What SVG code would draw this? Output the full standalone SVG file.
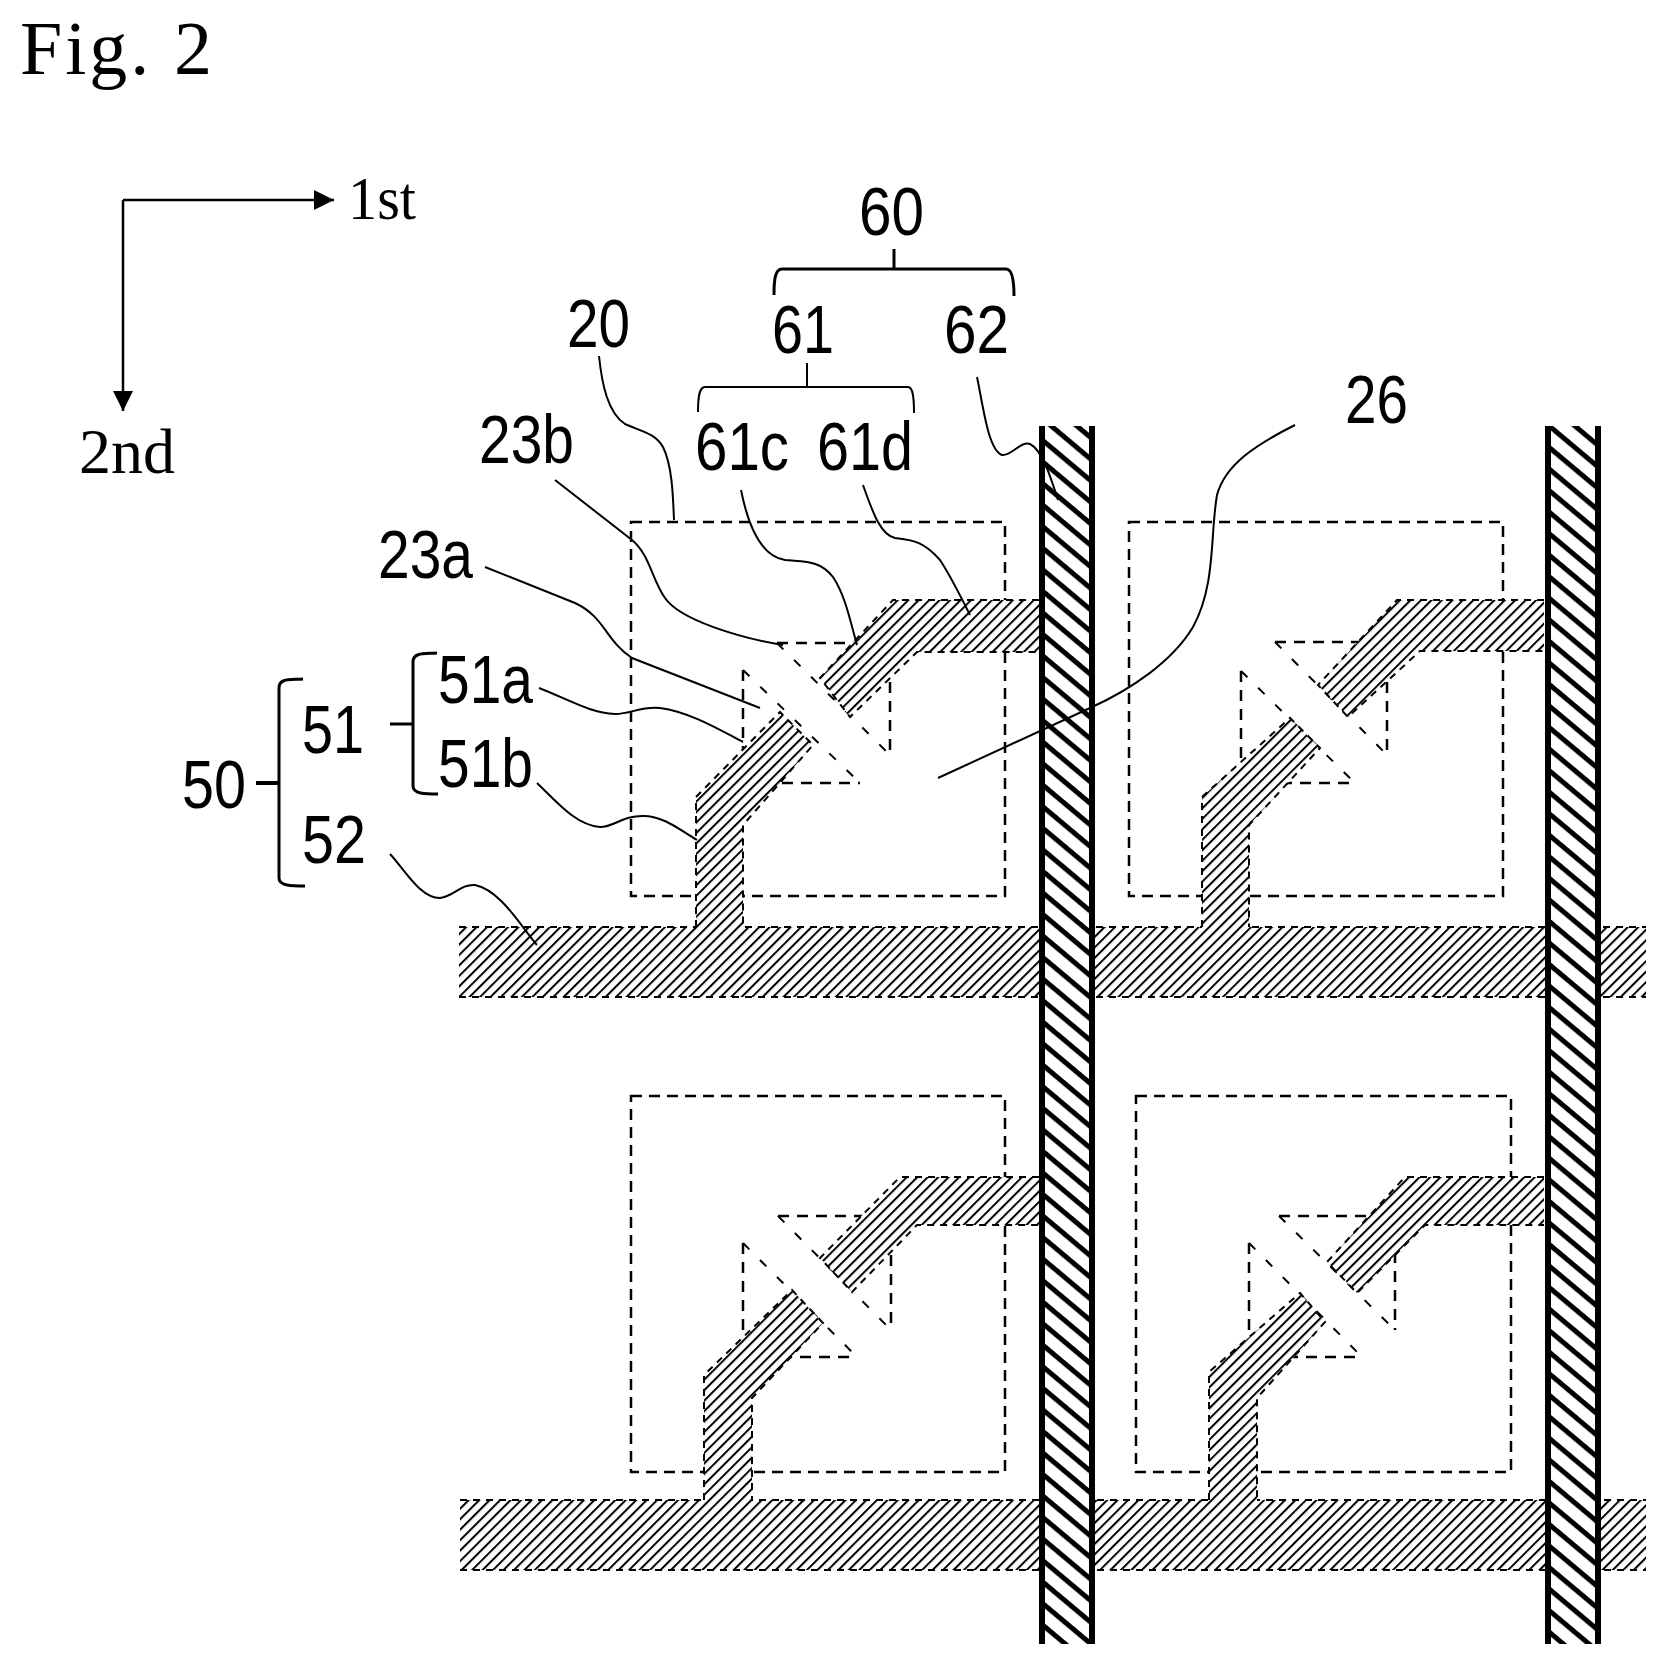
<svg xmlns="http://www.w3.org/2000/svg" width="1666" height="1658" viewBox="0 0 1666 1658">
<style>
.a{font-family:"Liberation Sans",Arial,sans-serif;font-size:68px;fill:#000}
.t{font-family:"Liberation Serif","Times New Roman",serif;fill:#000}
.ld{fill:none;stroke:#000;stroke-width:2}
.br{fill:none;stroke:#000;stroke-width:3}
.cell{fill:none;stroke:#000;stroke-width:2.5;stroke-dasharray:11 7}
.tri{fill:none;stroke:#000;stroke-width:2.5;stroke-dasharray:11 8}
.hyp{fill:none;stroke:#000;stroke-width:2;stroke-dasharray:9 15}
.hf{fill:url(#fine);stroke:none}
.he{fill:none;stroke:#000;stroke-width:2;stroke-dasharray:7 6}
.ax{fill:none;stroke:#000;stroke-width:2.5}
.bar{stroke:#000;stroke-width:6}
</style>
<defs>
<pattern id="fine" width="7.4" height="7.4" patternUnits="userSpaceOnUse" patternTransform="rotate(-45)"><rect width="7.4" height="7.4" fill="#fff"/><rect width="7.4" height="2" fill="#000"/></pattern>
<pattern id="data1" width="16.5" height="16.5" patternUnits="userSpaceOnUse" patternTransform="translate(1039 434) rotate(40)"><rect width="16.5" height="16.5" fill="#fff"/><rect width="16.5" height="5" fill="#000"/></pattern>
<pattern id="data2" width="16.5" height="16.5" patternUnits="userSpaceOnUse" patternTransform="translate(1544 526) rotate(40)"><rect width="16.5" height="16.5" fill="#fff"/><rect width="16.5" height="5" fill="#000"/></pattern>
<marker id="ah" markerUnits="userSpaceOnUse" markerWidth="21" markerHeight="21" refX="20" refY="10" orient="auto"><path d="M0 0L20 10L0 20Z" fill="#000"/></marker>
</defs>
<rect width="1666" height="1658" fill="#fff"/>

<text class="t" x="20" y="74" font-size="76" textLength="192" lengthAdjust="spacing">Fig. 2</text>

<g id="axes">
<path class="ax" d="M123 200H334" marker-end="url(#ah)"/>
<path class="ax" d="M123 200V411" marker-end="url(#ah)"/>
<text class="t" x="348" y="219" font-size="62" textLength="68" lengthAdjust="spacingAndGlyphs">1st</text>
<text class="t" x="79" y="473" font-size="64" textLength="96" lengthAdjust="spacingAndGlyphs">2nd</text>
</g>

<g id="scan-line-1"><rect class="hf" x="459" y="927" width="1187" height="70"/><path class="he" d="M459 927H1646M459 997H1646"/></g>
<g id="scan-line-2"><rect class="hf" x="460" y="1500" width="1186" height="70"/><path class="he" d="M460 1500H1646M460 1570H1646"/></g>

<g id="pixel-1">
<rect class="cell" x="631" y="522" width="374" height="374"/>
<path class="tri" d="M777 643H890V755M743 670V783H860"/>
<path class="hyp" d="M777 643L890 755M743 670L860 783"/>
<polygon class="hf" points="1039,600 893,600 820,678 850,717 917,652 1039,652"/>
<polyline class="he" points="1039,600 893,600 820,678 850,717 917,652 1039,652"/>
<polygon class="hf" points="696,930 696,797 780,712 813,745 743,825 743,930"/>
<polyline class="he" points="696,927 696,797 780,712 813,745 743,825 743,927"/>
</g>
<g id="pixel-2">
<rect class="cell" x="1129" y="522" width="374" height="374"/>
<path class="tri" d="M1275 642H1387V755M1241 671V783H1355"/>
<path class="hyp" d="M1275 642L1387 755M1241 671L1355 783"/>
<polygon class="hf" points="1544,600 1397,600 1318,685 1348,717 1420,651 1544,651"/>
<polyline class="he" points="1544,600 1397,600 1318,685 1348,717 1420,651 1544,651"/>
<polygon class="hf" points="1202,930 1202,797 1290,718 1320,748 1249,825 1249,930"/>
<polyline class="he" points="1202,927 1202,797 1290,718 1320,748 1249,825 1249,927"/>
</g>
<g id="pixel-3">
<rect class="cell" x="631" y="1096" width="374" height="376"/>
<path class="tri" d="M778 1216H891V1330M743 1243V1357H857"/>
<path class="hyp" d="M778 1216L891 1330M743 1243L857 1357"/>
<polygon class="hf" points="1039,1177 900,1177 820,1258 852,1292 917,1225 1039,1225"/>
<polyline class="he" points="1039,1177 900,1177 820,1258 852,1292 917,1225 1039,1225"/>
<polygon class="hf" points="704,1503 704,1375 792,1290 823,1323 752,1398 752,1503"/>
<polyline class="he" points="704,1500 704,1375 792,1290 823,1323 752,1398 752,1500"/>
</g>
<g id="pixel-4">
<rect class="cell" x="1136" y="1096" width="375" height="376"/>
<path class="tri" d="M1279 1216H1395V1330M1249 1243V1357H1362"/>
<path class="hyp" d="M1279 1216L1395 1330M1249 1243L1362 1357"/>
<polygon class="hf" points="1544,1177 1405,1177 1327,1262 1357,1293 1425,1225 1544,1225"/>
<polyline class="he" points="1544,1177 1405,1177 1327,1262 1357,1293 1425,1225 1544,1225"/>
<polygon class="hf" points="1209,1503 1209,1372 1300,1293 1325,1322 1257,1398 1257,1503"/>
<polyline class="he" points="1209,1500 1209,1372 1300,1293 1325,1322 1257,1398 1257,1500"/>
</g>

<g id="data-line-1">
<rect x="1039" y="426" width="56" height="1218" fill="url(#data1)"/>
<path class="bar" d="M1042 426V1644M1092 426V1644"/>
</g>
<g id="data-line-2">
<rect x="1545" y="426" width="56" height="1218" fill="url(#data2)"/>
<path class="bar" d="M1548 426V1644M1598 426V1644"/>
</g>

<g id="connectors">
<path class="br" d="M774 295C774 280 775 269 782 269H1006C1012 269 1014 280 1014 296M894 249V269"/>
<path class="ld" d="M698 412C698 398 699 387 705 387H908C913 387 914 398 914 413M807 363V387"/>
<path class="br" d="M437 653C425 654 413 652 413 662V786C413 794 425 794 438 794M390 724H412"/>
<path class="br" d="M303 679C290 680 279 678 279 688V878C279 886 292 886 305 886"/>
<path d="M256 783H278" fill="none" stroke="#000" stroke-width="4"/>
<path class="ld" d="M599 356C602 385 608 413 625 424C640 431 655 433 663 447C672 465 673 495 674 520"/>
<path class="ld" d="M555 480L632 540C650 555 652 580 665 598C680 620 740 638 783 645"/>
<path class="ld" d="M485 567L575 603C605 617 605 640 632 658L760 708"/>
<path class="ld" d="M539 688C570 700 590 713 615 714C632 714 640 706 660 708C690 712 720 730 743 742"/>
<path class="ld" d="M537 783C555 800 575 825 600 827C615 827 622 815 645 816C665 817 680 830 697 840"/>
<path class="ld" d="M390 854C405 870 420 898 440 898C455 896 460 884 475 885C500 890 520 925 537 945"/>
<path class="ld" d="M741 490C748 525 760 556 785 560C805 562 820 560 833 577C845 595 850 620 857 645"/>
<path class="ld" d="M863 485C872 510 880 535 895 538C915 540 925 543 940 560C950 575 960 595 970 615"/>
<path class="ld" d="M977 377C983 405 988 450 1002 455C1012 456 1020 441 1030 444C1042 450 1050 475 1058 500"/>
<path class="ld" d="M1295 425C1255 445 1225 465 1217 495C1210 535 1216 585 1193 627C1172 662 1130 690 1090 708L938 778"/>
</g>

<g id="labels">
<text class="a" x="859" y="235" textLength="65" lengthAdjust="spacingAndGlyphs">60</text>
<text class="a" x="772" y="353" textLength="62" lengthAdjust="spacingAndGlyphs">61</text>
<text class="a" x="944" y="353" textLength="65" lengthAdjust="spacingAndGlyphs">62</text>
<text class="a" x="695" y="470" textLength="94" lengthAdjust="spacingAndGlyphs">61c</text>
<text class="a" x="817" y="470" textLength="96" lengthAdjust="spacingAndGlyphs">61d</text>
<text class="a" x="567" y="347" textLength="63" lengthAdjust="spacingAndGlyphs">20</text>
<text class="a" x="479" y="463" textLength="95" lengthAdjust="spacingAndGlyphs">23b</text>
<text class="a" x="378" y="578" textLength="95" lengthAdjust="spacingAndGlyphs">23a</text>
<text class="a" x="1345" y="423" textLength="63" lengthAdjust="spacingAndGlyphs">26</text>
<text class="a" x="182" y="808" textLength="64" lengthAdjust="spacingAndGlyphs">50</text>
<text class="a" x="302" y="753" textLength="62" lengthAdjust="spacingAndGlyphs">51</text>
<text class="a" x="438" y="703" textLength="95" lengthAdjust="spacingAndGlyphs">51a</text>
<text class="a" x="438" y="787" textLength="95" lengthAdjust="spacingAndGlyphs">51b</text>
<text class="a" x="302" y="863" textLength="64" lengthAdjust="spacingAndGlyphs">52</text>
</g>
</svg>
